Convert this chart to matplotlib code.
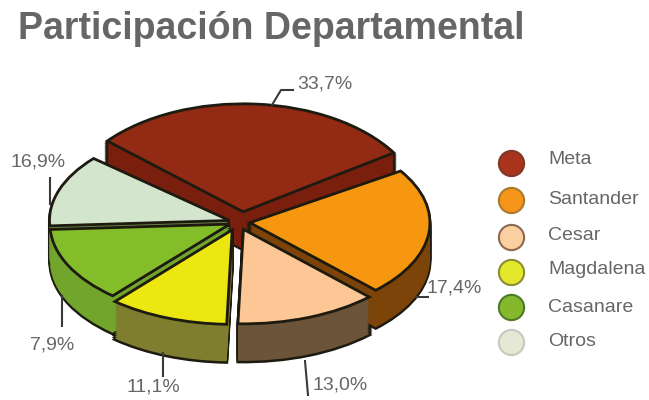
import matplotlib
matplotlib.use('Agg')
from matplotlib import pyplot as plt

plt.rcParams['font.family'] = ['Liberation Sans', 'DejaVu Sans']

labels = ['Meta', 'Santander', 'Cesar', 'Magdalena', 'Casanare', 'Otros']
# the slices in the picture are not drawn to the printed numbers, so these are read off the drawing
slice_shares = [29.4, 21.9, 12.8, 10.8, 12.8, 12.3]
value_labels = ['33,7%', '17,4%', '13,0%', '11,1%', '7,9%', '16,9%']

top_colors = ['#922a14', '#f7960f', '#fcc795', '#ece611', '#84bd2a', '#d3e6cd']
side_colors = ['#7a1f0e', '#7c4408', '#6b5438', '#7f7d2e', '#72a52c', '#6f8a50']
legend_colors = ['#a8341c', '#f7941a', '#fbcf9f', '#e3e82a', '#86b82c', '#e4e8d4']
legend_edges = ['#7c3a28', '#a87a30', '#8a6a50', '#8c8c30', '#4c7a28', '#c8c8c0']
explode = [17, 12, 15, 16, 9, 9]

depth = 38
outline = '#1d1a10'

fig = plt.figure(figsize=(6.49, 4.0), dpi=100)


def draw_pie_axes(squash, cx, show):
    # Meta sits behind the rest with a bit more height, the old chart has perspective
    ax = fig.add_axes([0, 0, 1, 1])

    def layer(drop, colors, **wedge):
        wedges, _ = ax.pie(slice_shares, explode=explode, colors=colors, startangle=139,
                           counterclock=False, center=(cx, (400 - 222 - drop) / squash),
                           radius=180, frame=True, wedgeprops=wedge)
        for i, w in enumerate(wedges):
            w.set_visible(i in show)

    # sides: a stack of flat pies, dark silhouette first and fill on top of it
    for drop in range(depth, 0, -2):
        layer(drop, [outline] * 6, linewidth=2.2, edgecolor=outline)
    for drop in range(depth - 1, 0, -2):
        layer(drop, side_colors, linewidth=0)
    layer(0, top_colors, linewidth=2, edgecolor=outline)

    ax.set_xlim(0, 649)
    ax.set_ylim(0, 400 / squash)
    ax.set_aspect('auto')
    ax.axis('off')


draw_pie_axes(0.6, 242, [0])
draw_pie_axes(0.525, 238, [1, 2, 3, 4, 5])

# overlay in pixel coordinates for text, leaders and legend
ov = fig.add_axes([0, 0, 1, 1])
ov.set_xlim(0, 649)
ov.set_ylim(400, 0)
ov.axis('off')

ov.text(18, 29, 'Participación Departamental', fontsize=27, fontweight='bold', color='#666666',
        va='center', ha='left')

leaders = [([272, 281, 293], [105, 90, 90]), ([416, 428], [297, 297]), ([305, 308], [361, 395]),
           ([163, 163], [353, 376]), ([62, 62], [296, 326]), ([50, 50], [178, 204])]
label_pos = [(297, 84), (427, 288), (312, 385), (127, 387), (30, 345), (10, 162)]
for (lx, ly), (tx, ty), txt in zip(leaders, label_pos, value_labels):
    ov.plot(lx, ly, color='#3a3a3a', lw=1.5)
    ov.text(tx, ty, txt, fontsize=14, color='#666666', va='center', ha='left')

legend_y = [163, 200, 237, 272, 307, 342]
text_y = [160, 200, 235, 270, 308, 341]
for name, c, e, y, ty in zip(labels, legend_colors, legend_edges, legend_y, text_y):
    ov.scatter([511], [y], s=330, color=c, edgecolor=e, linewidth=1.5)
    ov.text(548, ty, name, fontsize=14, color='#666666', va='center', ha='left')

plt.savefig('out.png', dpi=100)
